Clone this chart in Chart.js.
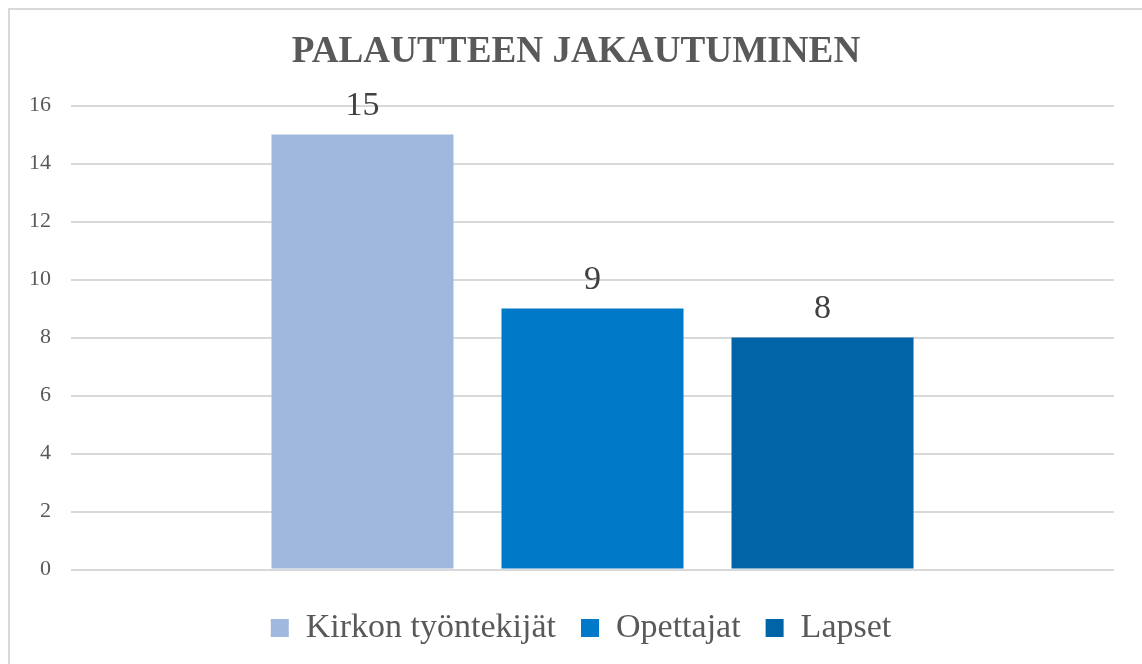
<!DOCTYPE html>
<html>
<head>
<meta charset="utf-8">
<style>
  html, body { margin: 0; padding: 0; background: #ffffff; }
  #wrap { width: 1142px; height: 664px; }
</style>
<script src="https://cdn.jsdelivr.net/npm/chart.js@4.4.1/dist/chart.umd.min.js"></script>
</head>
<body>
<div id="wrap"><canvas id="c" width="1142" height="664"></canvas></div>
<script>
const categories = ["PALAUTE"];
const seriesNames = ["Kirkon työntekijät", "Opettajat", "Lapset"];
const kirkonValues = [15];
const opettajatValues = [9];
const lapsetValues = [8];
const seriesColors = ["#a1b8de", "#0079c9", "#0064a7"];
const chartTitle = "PALAUTTEEN JAKAUTUMINEN";
const yMin = 0, yMax = 16, yStep = 2;

const serif = '"Liberation Serif", "Times New Roman", serif';

const borderPlugin = {
  id: 'outerBorder',
  beforeDraw(chart) {
    const ctx = chart.ctx;
    ctx.save();
    ctx.fillStyle = '#ffffff';
    ctx.fillRect(0, 0, chart.width, chart.height);
    ctx.strokeStyle = '#d9d9d9';
    ctx.lineWidth = 2;
    ctx.strokeRect(9, 9, chart.width + 20, chart.height + 20);
    ctx.restore();
  }
};

// nudge title and legend horizontally to match the reference centring
const shiftBlocks = {
  id: 'shiftBlocks',
  afterLayout(chart) {
    if (chart.legend) { chart.legend.left += 14; chart.legend.right += 14; }
    if (chart.titleBlock) { chart.titleBlock.left += 9; chart.titleBlock.right += 9; }
  }
};

const valueLabels = {
  id: 'valueLabels',
  afterDatasetsDraw(chart) {
    const ctx = chart.ctx;
    ctx.save();
    ctx.font = '34px ' + serif;
    ctx.fillStyle = '#404040';
    ctx.textAlign = 'center';
    ctx.textBaseline = 'alphabetic';
    chart.data.datasets.forEach((ds, i) => {
      const meta = chart.getDatasetMeta(i);
      meta.data.forEach((bar, j) => {
        ctx.fillText(String(ds.data[j]), bar.x, bar.y - 20);
      });
    });
    ctx.restore();
  }
};

new Chart(document.getElementById('c'), {
  type: 'bar',
  data: {
    labels: categories,
    datasets: [
      { label: seriesNames[0], data: kirkonValues, backgroundColor: seriesColors[0], borderWidth: 0 },
      { label: seriesNames[1], data: opettajatValues, backgroundColor: seriesColors[1], borderWidth: 0 },
      { label: seriesNames[2], data: lapsetValues, backgroundColor: seriesColors[2], borderWidth: 0 }
    ]
  },
  options: {
    responsive: false,
    animation: false,
    devicePixelRatio: 1,
    categoryPercentage: 0.6616,
    barPercentage: 0.7913,
    layout: { padding: { left: 20, right: 28, top: 0, bottom: 9 } },
    plugins: {
      title: {
        display: true,
        text: chartTitle,
        color: '#595959',
        font: { family: serif, size: 37.2, weight: 'bold', lineHeight: 1.2 },
        padding: { top: 29.7, bottom: 31.2 }
      },
      legend: {
        display: true,
        position: 'bottom',
        labels: {
          color: '#595959',
          font: { family: serif, size: 34 },
          boxWidth: 18,
          boxHeight: 18,
          padding: 25
        }
      },
      tooltip: { enabled: false }
    },
    scales: {
      x: {
        display: true,
        ticks: { display: false },
        grid: { display: false },
        border: { display: false },
        afterFit(scale) { scale.height = 16.5; }
      },
      y: {
        min: yMin,
        max: yMax,
        ticks: {
          stepSize: yStep,
          color: '#595959',
          font: { family: serif, size: 22 },
          padding: 20
        },
        grid: { color: '#d9d9d9', lineWidth: 2, drawTicks: false },
        border: { display: false },
        afterFit(scale) { scale.width = 51; }
      }
    }
  },
  plugins: [borderPlugin, shiftBlocks, valueLabels]
});
</script>
</body>
</html>
